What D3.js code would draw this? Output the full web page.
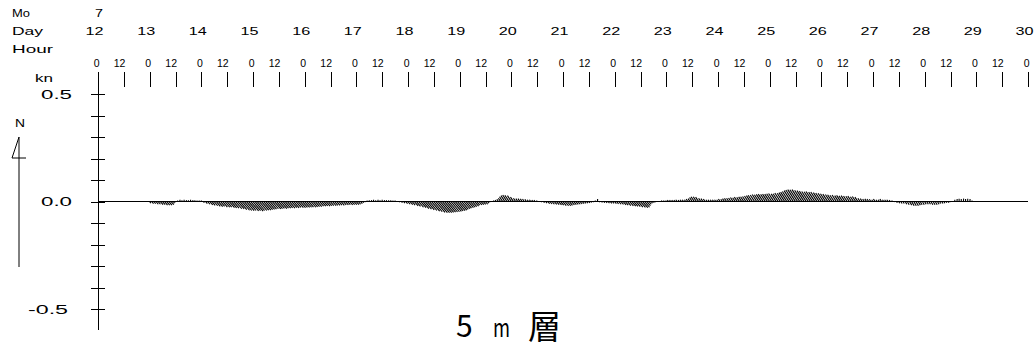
<!DOCTYPE html>
<html>
<head>
<meta charset="utf-8">
<script src="https://cdn.jsdelivr.net/npm/d3@7"></script>
<style>
  html, body { margin: 0; background: #fff; }
  svg { display: block; font-family: "Liberation Sans", Arial, sans-serif; }
</style>
</head>
<body>
<svg id="chart" width="1036" height="349"></svg>
<script>
// ---- calendar of the record -------------------------------------------
const month = 7;
const firstDay = 12, lastDay = 30;          // time axis: 12th 00h .. 30th 00h
const firstRecordHour = 24;                  // first vector: 13th 00h
const hourLabels = [0, 12];

// ---- speed axis (kn) ----------------------------------------------------
const speedTicks = [-0.5, -0.4, -0.3, -0.2, -0.1, 0, 0.1, 0.2, 0.3, 0.4, 0.5];
const speedLabels = [-0.5, 0, 0.5];

// ---- hourly current components at 5 m, in 1/1000 kn ---------------------
// one row per day (13th .. 28th), 00h .. 23h
const northMk = [
  -7,-9,-9,-12,-12,-14,-14,-16,-16,-16,-14,-7,-2,5,9,7,9,7,7,9,7,7,5,5,
  5,-5,-9,-12,-15,-17,-19,-22,-23,-22,-25,-26,-25,-28,-29,-30,-33,-34,-37,-40,-41,-42,-41,-43,
  -42,-44,-41,-41,-39,-39,-37,-36,-35,-33,-34,-32,-31,-32,-30,-30,-29,-30,-28,-29,-27,-28,-28,-27,
  -27,-26,-25,-26,-24,-23,-23,-21,-21,-20,-21,-19,-18,-19,-17,-17,-16,-17,-15,-15,-14,-15,-14,-14,
  -14,-12,-9,-5,-2,5,7,7,9,7,9,7,9,7,7,7,7,5,5,2,-2,-5,-7,-9,
  -12,-14,-16,-20,-22,-26,-28,-32,-35,-38,-41,-44,-47,-50,-51,-51,-51,-50,-49,-48,-47,-45,-43,-42,
  -39,-36,-33,-30,-28,-26,-23,-21,-16,-15,-14,-13,-12,-7,-2,0,5,7,11,16,23,28,31,30,
  28,21,16,14,14,13,12,11,9,9,8,7,5,0,-2,-5,-7,-9,-11,-12,-13,-14,-15,-16,
  -18,-19,-19,-17,-15,-14,-13,-12,-11,-9,-8,-7,-6,-4,-2,5,12,-2,-4,-5,-6,-7,-8,-8,
  -9,-10,-12,-13,-15,-16,-18,-20,-21,-22,-23,-25,-27,-28,-26,-19,-12,-7,-5,-2,0,2,5,5,
  5,7,7,7,7,9,7,9,9,9,12,14,19,23,23,21,16,14,12,9,9,9,9,9,
  9,12,11,14,15,16,17,19,18,21,20,22,23,24,26,28,30,31,33,32,34,35,34,35,
  35,37,38,36,37,40,39,42,44,47,51,54,56,55,56,53,51,49,47,46,47,44,45,42,
  40,39,37,35,33,32,30,31,28,29,27,28,26,25,26,23,24,21,16,14,12,13,12,11,
  9,12,9,9,12,9,9,9,7,5,-2,-5,-7,-9,-9,-12,-14,-16,-19,-19,-19,-16,-14,-14,
  -12,-12,-12,-14,-14,-14,-12,-9,-9,-7,-5,-5,-2,0,9,12,14,12,14,12,14,12,5,0
];
const eastMk = [
  6,8,8,10,10,12,12,13,13,13,12,6,2,0,1,0,0,1,0,0,1,0,0,0,
  0,4,8,10,13,14,16,18,19,18,21,22,21,24,24,25,28,29,31,34,34,35,34,36,
  35,37,34,34,33,33,31,30,29,28,29,27,26,27,25,25,24,25,24,24,23,24,24,23,
  23,22,21,22,20,19,19,18,18,17,18,16,15,16,14,14,13,14,13,13,12,13,12,12,
  12,10,8,4,2,0,0,1,0,0,1,0,0,1,0,0,0,0,0,0,2,4,6,8,
  10,12,13,17,18,22,24,27,29,32,34,37,39,42,43,43,43,42,41,40,39,38,36,35,
  33,30,28,25,24,22,19,18,13,13,12,11,10,6,2,0,-3,-5,-7,-10,-15,-18,-20,-20,
  -18,-14,-10,-9,-9,-8,-8,-7,-6,-6,-5,-5,-3,0,2,4,6,8,9,10,11,12,13,13,
  15,16,16,14,13,12,11,10,9,8,7,6,5,3,2,0,1,2,3,4,5,6,7,7,
  8,8,10,11,13,13,15,17,18,18,19,21,23,24,22,16,10,6,4,2,0,-1,-3,-3,
  -3,-5,-5,-5,-5,-6,-5,-6,-6,-6,-8,-9,-12,-15,-15,-14,-10,-9,-8,-6,-6,-6,-6,-6,
  -6,-8,-7,-9,-10,-10,-11,-12,-12,-14,-13,-14,-15,-16,-17,-18,-20,-20,-21,-21,-22,-23,-22,-23,
  -23,-24,-25,-23,-24,-26,-25,-27,-29,-31,-33,-35,-36,-36,-36,-34,-33,-32,-31,-30,-31,-29,-29,-27,
  -26,-25,-24,-23,-21,-21,-20,-20,-18,-19,-18,-18,-17,-16,-17,-15,-16,-14,-10,-9,-8,-8,-8,-7,
  -6,-8,-6,-6,-8,-6,-6,-6,-5,-3,1,3,4,5,5,7,8,10,11,11,11,10,8,8,
  7,7,7,8,8,8,7,5,5,4,3,3,1,0,0,1,0,0,1,0,0,1,0,0
];

// ---- layout -------------------------------------------------------------
const svg = d3.select("#chart");
const ink = "#000";

const spanHours = (lastDay - firstDay) * 24;
const x = d3.scaleLinear().domain([0, spanHours]).range([98, 1028]);
const y = d3.scaleLinear().domain([-0.5, 0.5]).range([309.3, 94]);
const pxPerKn = y(0) - y(1);   // vectors share the vertical speed scale
const axisX = x(0);

// text stretched horizontally to a given width
function wideText(px, py, str, size, width) {
  return svg.append("text")
    .attr("x", px).attr("y", py)
    .attr("font-size", size)
    .attr("fill", ink)
    .attr("textLength", width)
    .attr("lengthAdjust", "spacingAndGlyphs")
    .text(str);
}

// ---- header rows: month, day, hour --------------------------------------
wideText(12, 17, "Mo", 10, 18);
wideText(12, 35, "Day", 11, 31);
wideText(12, 53, "Hour", 11, 41);
wideText(35, 82, "kn", 11, 18);

wideText(axisX - 3, 17, String(month), 11, 8);

d3.range(firstDay, lastDay + 1).forEach(day => {
  const tx = x((day - firstDay) * 24);
  wideText(tx - 12.5, 35, String(day), 11, 18);
});

svg.append("g")
  .selectAll("text")
  .data(d3.range(0, spanHours + 1, 12))
  .join("text")
  .attr("x", h => x(h) + 1.5)
  .attr("y", 67)
  .attr("text-anchor", "end")
  .attr("font-size", 10.5)
  .attr("fill", ink)
  .text(h => hourLabels[(h / 12) % 2]);

// 12-hour tick marks along the top
const topAxis = svg.append("g")
  .attr("transform", "translate(0,87)")
  .call(d3.axisTop(x).tickValues(d3.range(0, spanHours + 1, 12)).tickSize(15).tickFormat(""));
topAxis.select(".domain").remove();
topAxis.selectAll("line").attr("stroke", ink).attr("shape-rendering", "crispEdges");

// ---- speed axis ---------------------------------------------------------
svg.append("line")
  .attr("x1", axisX).attr("x2", axisX)
  .attr("y1", 72).attr("y2", 330)
  .attr("stroke", ink).attr("shape-rendering", "crispEdges");

const leftAxis = svg.append("g")
  .attr("transform", `translate(${axisX},0)`)
  .call(d3.axisLeft(y).tickValues(speedTicks).tickSize(7).tickFormat(""));
leftAxis.select(".domain").remove();
leftAxis.selectAll("line").attr("x1", 7).attr("stroke", ink).attr("shape-rendering", "crispEdges");

speedLabels.forEach(v => {
  const s = d3.format(".1f")(v).replace("\u2212", "-");
  const w = v < 0 ? 40 : 31;
  const left = v < 0 ? 28 : 41;
  wideText(left, y(v) + 4.5, s, 12, w);
});

// ---- north arrow --------------------------------------------------------
wideText(15, 127, "N", 11, 10);
svg.append("line")
  .attr("x1", 19).attr("x2", 19).attr("y1", 137).attr("y2", 267)
  .attr("stroke", ink);
svg.append("path")
  .attr("d", "M19,137 L12,158 L26,158")
  .attr("fill", "none").attr("stroke", ink);

// ---- zero line and current sticks ---------------------------------------
svg.append("line")
  .attr("x1", x(0)).attr("x2", x(spanHours))
  .attr("y1", y(0)).attr("y2", y(0))
  .attr("stroke", ink).attr("shape-rendering", "crispEdges");

const records = northMk.map((n, i) => ({
  t: firstRecordHour + i,
  north: n * 0.001,
  east: eastMk[i] * 0.001
})).filter(d => d.north !== 0 || d.east !== 0);

svg.append("g")
  .selectAll("line")
  .data(records)
  .join("line")
  .attr("x1", d => x(d.t))
  .attr("y1", y(0))
  .attr("x2", d => x(d.t) + d.east * pxPerKn)
  .attr("y2", d => y(d.north))
  .attr("stroke", ink)
  .attr("stroke-width", 1.1);

// ---- layer title --------------------------------------------------------
const title = svg.append("g")
  .attr("font-family", "'Noto Sans CJK JP', 'Noto Sans CJK SC', sans-serif")
  .attr("fill", ink);
title.append("text").attr("x", 456).attr("y", 337).attr("font-size", 30).text("5");
title.append("text").attr("x", 493).attr("y", 337).attr("font-size", 26)
  .attr("textLength", 17).attr("lengthAdjust", "spacingAndGlyphs").text("m");
title.append("text").attr("x", 528).attr("y", 339).attr("font-size", 33).text("層");
</script>
</body>
</html>
